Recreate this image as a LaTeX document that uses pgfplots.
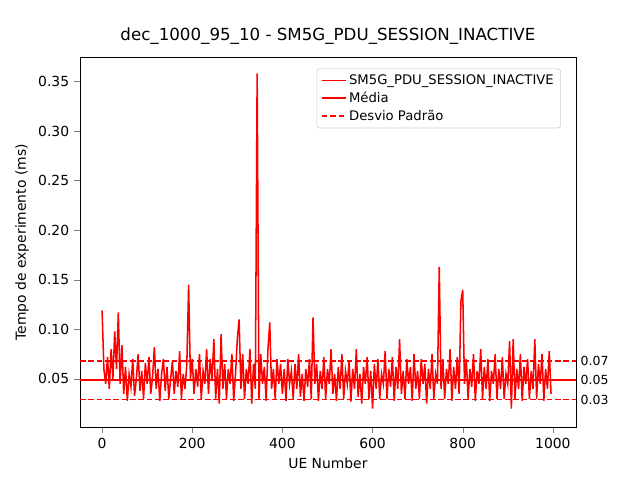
\documentclass[border=0pt]{standalone}
\usepackage{pgfplots}
\pgfplotsset{compat=1.18}
\usepackage{fontspec}
\setmainfont{DejaVu Sans}
\begin{document}
\begin{tikzpicture}
\begin{axis}[
  scale only axis, width=357pt, height=266pt,
  xmin=-49, xmax=1051, ymin=0.0015, ymax=0.374,
  xtick={0,200,400,600,800,1000},
  xticklabel style={/pgf/number format/.cd,set thousands separator={}},
  ytick={0.05,0.10,0.15,0.20,0.25,0.30,0.35},
  yticklabel style={/pgf/number format/.cd,fixed,fixed zerofill,precision=2},
  /pgf/number format/assume math mode=true,
  tick align=outside, tick pos=left,
  xlabel={UE Number}, ylabel={Tempo de experimento (ms)},
  title={dec\_1000\_95\_10 - SM5G\_PDU\_SESSION\_INACTIVE},
  title style={font=\fontsize{12}{14}\selectfont},
  legend pos=north east, legend cell align=left,
  legend style={font=\fontsize{9.5}{12}\selectfont, draw=black!20, rounded corners=2pt},
  clip=false,
]
\addplot[color=red, line width=1.1pt] coordinates {
(0,0.119)(4,0.06)(8,0.045)(12,0.072)(16,0.04)(20,0.08)(24,0.05)(28,0.098)(32,0.06)(36,0.117)
(40,0.045)(44,0.084)(48,0.035)(52,0.062)(56,0.028)(60,0.055)(64,0.042)(68,0.07)(72,0.033)(76,0.05)
(80,0.075)(84,0.038)(88,0.058)(92,0.03)(96,0.066)(100,0.045)(104,0.072)(108,0.035)(112,0.052)(116,0.082)
(120,0.04)(124,0.06)(128,0.028)(132,0.055)(136,0.07)(140,0.038)(144,0.062)(148,0.03)(152,0.05)(156,0.068)
(160,0.035)(164,0.058)(168,0.042)(172,0.078)(176,0.03)(180,0.055)(184,0.04)(188,0.065)(192,0.145)(196,0.05)
(200,0.07)(204,0.035)(208,0.06)(212,0.042)(216,0.075)(220,0.03)(224,0.058)(228,0.045)(232,0.08)(236,0.035)
(240,0.07)(244,0.05)(248,0.09)(252,0.03)(256,0.06)(260,0.025)(264,0.095)(268,0.04)(272,0.065)(276,0.03)
(280,0.06)(284,0.045)(288,0.075)(292,0.028)(296,0.055)(300,0.09)(304,0.11)(308,0.04)(312,0.075)(316,0.03)
(320,0.06)(324,0.045)(328,0.08)(332,0.025)(336,0.065)(340,0.04)(344,0.358)(348,0.03)(352,0.075)(356,0.045)
(360,0.062)(364,0.028)(368,0.08)(372,0.107)(376,0.04)(380,0.06)(384,0.03)(388,0.07)(392,0.045)(396,0.065)
(400,0.035)(404,0.06)(408,0.028)(412,0.07)(416,0.045)(420,0.058)(424,0.03)(428,0.065)(432,0.04)(436,0.075)
(440,0.032)(444,0.055)(448,0.028)(452,0.06)(456,0.042)(460,0.07)(464,0.03)(468,0.112)(472,0.045)(476,0.065)
(480,0.028)(484,0.058)(488,0.04)(492,0.072)(496,0.03)(500,0.06)(504,0.045)(508,0.08)(512,0.035)(516,0.055)
(520,0.028)(524,0.062)(528,0.04)(532,0.075)(536,0.03)(540,0.058)(544,0.045)(548,0.068)(552,0.027)(556,0.06)
(560,0.04)(564,0.08)(568,0.032)(572,0.055)(576,0.025)(580,0.062)(584,0.045)(588,0.072)(592,0.03)(596,0.058)
(600,0.02)(604,0.065)(608,0.04)(612,0.07)(616,0.03)(620,0.055)(624,0.045)(628,0.078)(632,0.03)(636,0.06)
(640,0.042)(644,0.072)(648,0.028)(652,0.062)(656,0.04)(660,0.09)(664,0.035)(668,0.058)(672,0.03)(676,0.07)
(680,0.045)(684,0.062)(688,0.028)(692,0.075)(696,0.04)(700,0.058)(704,0.03)(708,0.07)(712,0.045)(716,0.065)
(720,0.025)(724,0.06)(728,0.04)(732,0.075)(736,0.03)(740,0.055)(744,0.045)(748,0.163)(752,0.04)(756,0.07)
(760,0.03)(764,0.06)(768,0.045)(772,0.08)(776,0.028)(780,0.062)(784,0.04)(788,0.072)(792,0.035)(796,0.128)
(800,0.14)(804,0.045)(808,0.07)(812,0.03)(816,0.06)(820,0.042)(824,0.075)(828,0.028)(832,0.058)(836,0.045)
(840,0.08)(844,0.03)(848,0.062)(852,0.04)(856,0.07)(860,0.028)(864,0.058)(868,0.045)(872,0.075)(876,0.03)
(880,0.06)(884,0.04)(888,0.072)(892,0.03)(896,0.055)(900,0.045)(904,0.088)(908,0.02)(912,0.09)(916,0.03)
(920,0.06)(924,0.04)(928,0.075)(932,0.028)(936,0.062)(940,0.045)(944,0.07)(948,0.03)(952,0.058)(956,0.04)
(960,0.09)(964,0.03)(968,0.065)(972,0.045)(976,0.075)(980,0.028)(984,0.06)(988,0.04)(992,0.078)(996,0.035)
};
\addlegendentry{SM5G\_PDU\_SESSION\_INACTIVE}
\addplot[color=red, line width=1.1pt] coordinates {(-49,0.049)(1051,0.049)};
\addlegendentry{Média}
\addplot[color=red, line width=1.1pt, dash pattern=on 4pt off 2pt] coordinates {(-49,0.068)(1051,0.068)};
\addlegendentry{Desvio Padrão}
\addplot[color=red, line width=1.1pt, dash pattern=on 4pt off 2pt, forget plot] coordinates {(-49,0.029)(1051,0.029)};
\node[anchor=west, font=\small] at (axis cs:1051,0.068) {0.07};
\node[anchor=west, font=\small] at (axis cs:1051,0.049) {0.05};
\node[anchor=west, font=\small] at (axis cs:1051,0.029) {0.03};
\coordinate (O) at (rel axis cs:0,0);
\end{axis}
\path (O) ++(-57.6pt,-38.16pt) rectangle ++(460.8pt,345.6pt);
\end{tikzpicture}
\end{document}
